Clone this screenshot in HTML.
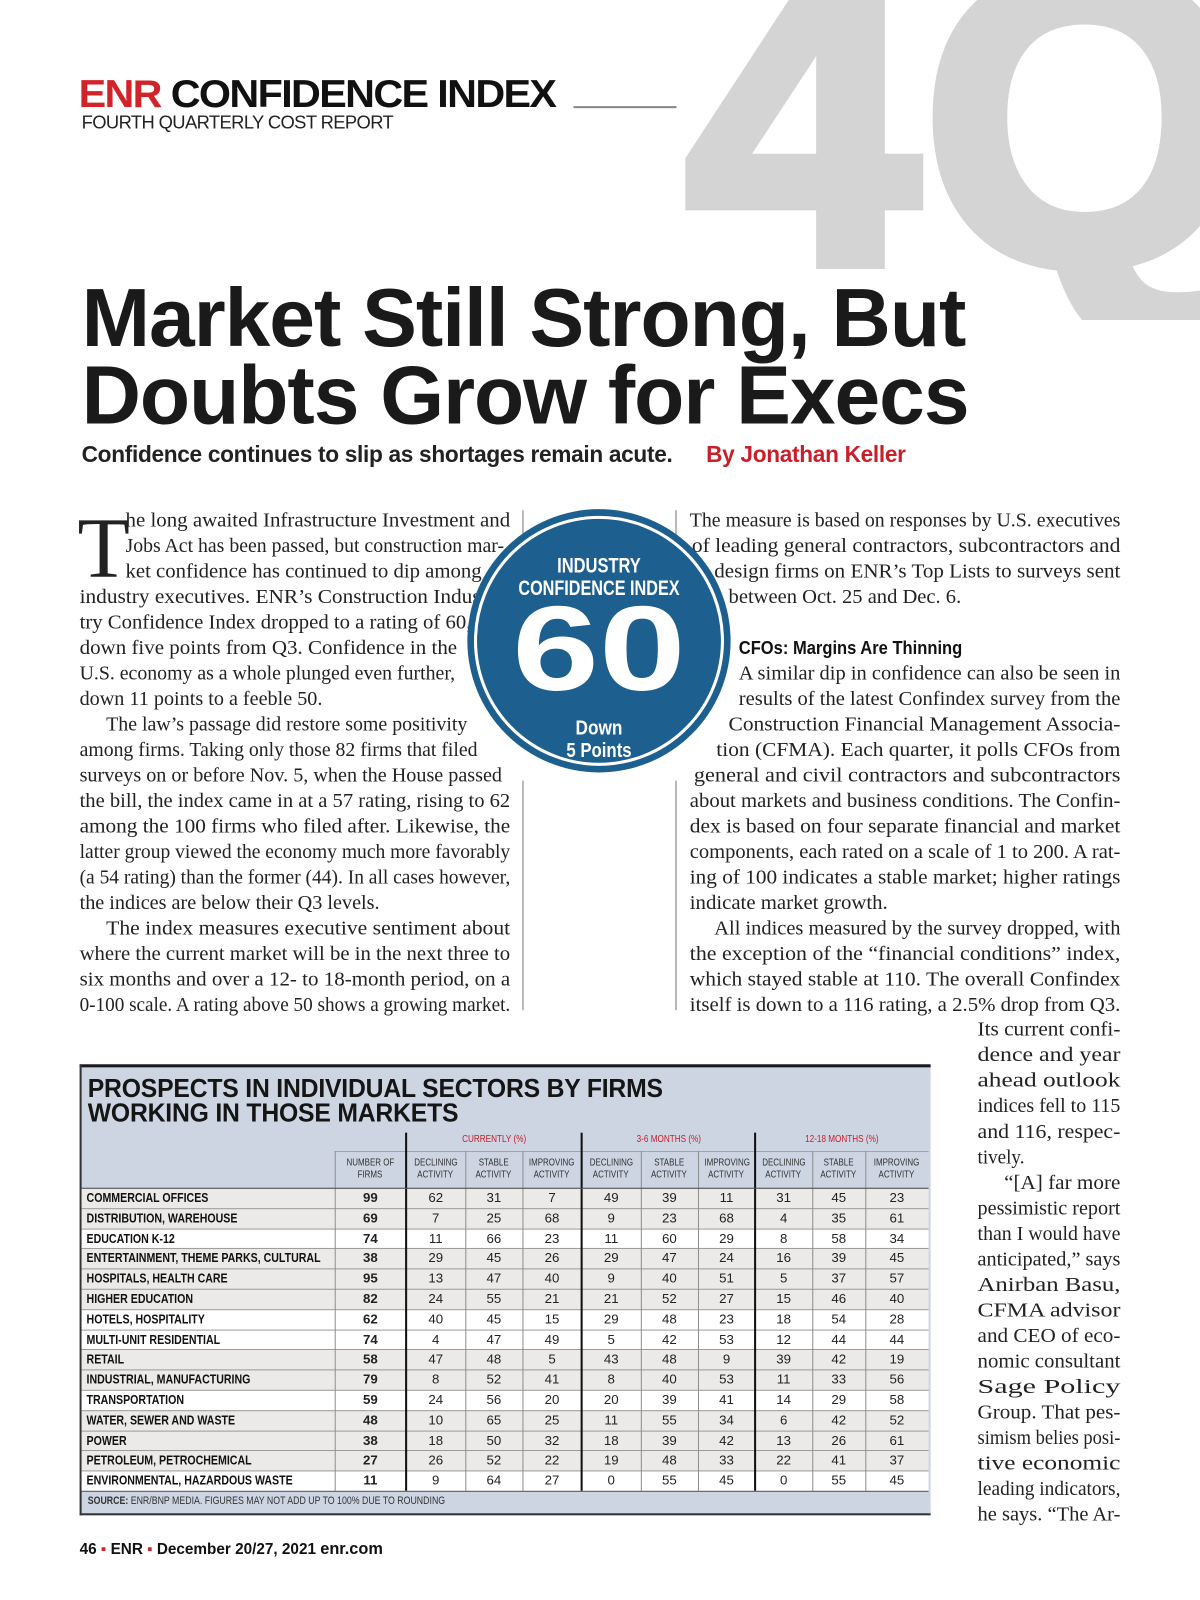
<!DOCTYPE html>
<html><head><meta charset="utf-8">
<style>
*{margin:0;padding:0;box-sizing:border-box}
body{width:1200px;height:1600px;background:#fff;position:relative;overflow:hidden;font-family:"Liberation Sans",sans-serif}
#wrap{position:absolute;left:0;top:0;width:1176px;height:1568px;transform:scale(1.020408);transform-origin:0 0}
.abs{position:absolute}
#tbl div{position:absolute;white-space:nowrap}
.cell{font-family:"Liberation Sans",sans-serif;font-size:13px;color:#222;text-align:center;line-height:19.8px}
.lab{font-family:"Liberation Sans",sans-serif;font-weight:bold;font-size:13px;color:#111;line-height:19.8px;padding-left:6px;transform:scaleX(0.8);transform-origin:left center}
.hd{font-family:"Liberation Sans",sans-serif;font-size:10px;color:#333;text-align:center;line-height:12px}
.hd span{display:inline-block;transform:scaleX(0.78)}
.grp{font-family:"Liberation Sans",sans-serif;font-size:10px;color:#c8202a;text-align:center}
</style></head><body>

<svg class="abs" style="left:0;top:0" width="1200" height="320">
<text x="686" y="262" font-family="Liberation Sans, sans-serif" font-weight="bold" font-size="418" fill="#d4d4d4" stroke="#d4d4d4" stroke-width="14" stroke-linejoin="miter" letter-spacing="4">4Q</text>
</svg>

<div id="wrap">
<div class="abs" style="left:77px;top:72px;font-size:38px;font-weight:900;letter-spacing:-1.5px;transform:scaleX(1.065);transform-origin:left;line-height:42px;white-space:nowrap"><span style="color:#d2232a">ENR</span> <span style="color:#111">CONFIDENCE INDEX</span></div>
<div class="abs" style="left:80px;top:110px;font-size:18px;color:#222;letter-spacing:-0.6px">FOURTH QUARTERLY COST REPORT</div>
<div class="abs" style="left:562px;top:104px;width:101px;height:2px;background:#888"></div>

<div class="abs" style="left:80px;top:274px;font-size:80.5px;font-weight:bold;color:#1a1a1a;letter-spacing:-1px;line-height:76px;white-space:nowrap">Market Still Strong, But<br>Doubts Grow for Execs</div>
<div class="abs" style="left:80px;top:433px;font-size:22.2px;font-weight:bold;color:#222;letter-spacing:-0.3px;white-space:nowrap">Confidence continues to slip as shortages remain acute.</div>
<div class="abs" style="left:692px;top:433px;font-size:22.2px;font-weight:bold;color:#c8202a;letter-spacing:-0.3px;white-space:nowrap">By Jonathan Keller</div>

<div class="abs" style="left:512px;top:500px;width:1px;height:24px;background:#777"></div>
<div class="abs" style="left:512px;top:765px;width:1px;height:225px;background:#777"></div>
<div class="abs" style="left:662px;top:500px;width:1px;height:24px;background:#777"></div>
<div class="abs" style="left:662px;top:765px;width:1px;height:225px;background:#777"></div>

<svg class="abs" style="left:0;top:0" width="1176" height="1568">
<g font-family="Liberation Serif, serif" font-size="20" fill="#222">
<text x="76" y="565" font-size="84">T</text>
<text x="123" y="516" textLength="377" lengthAdjust="spacingAndGlyphs">he long awaited Infrastructure Investment and</text>
<text x="123" y="541" textLength="371" lengthAdjust="spacingAndGlyphs">Jobs Act has been passed, but construction mar-</text>
<text x="123" y="566" textLength="349" lengthAdjust="spacingAndGlyphs">ket confidence has continued to dip among</text>
<text x="78" y="591" textLength="400" lengthAdjust="spacingAndGlyphs">industry executives. ENR’s Construction Indus-</text>
<text x="78" y="616" textLength="384" lengthAdjust="spacingAndGlyphs">try Confidence Index dropped to a rating of 60,</text>
<text x="78" y="641" textLength="370" lengthAdjust="spacingAndGlyphs">down five points from Q3. Confidence in the</text>
<text x="78" y="666" textLength="368" lengthAdjust="spacingAndGlyphs">U.S. economy as a whole plunged even further,</text>
<text x="78" y="691" textLength="238" lengthAdjust="spacingAndGlyphs">down 11 points to a feeble 50.</text>
<text x="104" y="716" textLength="354" lengthAdjust="spacingAndGlyphs">The law’s passage did restore some positivity</text>
<text x="78" y="741" textLength="390" lengthAdjust="spacingAndGlyphs">among firms. Taking only those 82 firms that filed</text>
<text x="78" y="766" textLength="414" lengthAdjust="spacingAndGlyphs">surveys on or before Nov. 5, when the House passed</text>
<text x="78" y="791" textLength="422" lengthAdjust="spacingAndGlyphs">the bill, the index came in at a 57 rating, rising to 62</text>
<text x="78" y="816" textLength="422" lengthAdjust="spacingAndGlyphs">among the 100 firms who filed after. Likewise, the</text>
<text x="78" y="841" textLength="422" lengthAdjust="spacingAndGlyphs">latter group viewed the economy much more favorably</text>
<text x="78" y="866" textLength="422" lengthAdjust="spacingAndGlyphs">(a 54 rating) than the former (44). In all cases however,</text>
<text x="78" y="891" textLength="294" lengthAdjust="spacingAndGlyphs">the indices are below their Q3 levels.</text>
<text x="104" y="916" textLength="396" lengthAdjust="spacingAndGlyphs">The index measures executive sentiment about</text>
<text x="78" y="941" textLength="422" lengthAdjust="spacingAndGlyphs">where the current market will be in the next three to</text>
<text x="78" y="966" textLength="422" lengthAdjust="spacingAndGlyphs">six months and over a 12- to 18-month period, on a</text>
<text x="78" y="991" textLength="422" lengthAdjust="spacingAndGlyphs">0-100 scale. A rating above 50 shows a growing market.</text>

<text x="676" y="516" textLength="422" lengthAdjust="spacingAndGlyphs">The measure is based on responses by U.S. executives</text>
<text x="678" y="541" textLength="420" lengthAdjust="spacingAndGlyphs">of leading general contractors, subcontractors and</text>
<text x="700" y="566" textLength="398" lengthAdjust="spacingAndGlyphs">design firms on ENR’s Top Lists to surveys sent</text>
<text x="714" y="591" textLength="228" lengthAdjust="spacingAndGlyphs">between Oct. 25 and Dec. 6.</text>
<text x="724" y="641" font-family="Liberation Sans, sans-serif" font-weight="bold" font-size="18" fill="#111" textLength="219" lengthAdjust="spacingAndGlyphs">CFOs: Margins Are Thinning</text>
<text x="724" y="666" textLength="374" lengthAdjust="spacingAndGlyphs">A similar dip in confidence can also be seen in</text>
<text x="724" y="691" textLength="374" lengthAdjust="spacingAndGlyphs">results of the latest Confindex survey from the</text>
<text x="714" y="716" textLength="384" lengthAdjust="spacingAndGlyphs">Construction Financial Management Associa-</text>
<text x="702" y="741" textLength="396" lengthAdjust="spacingAndGlyphs">tion (CFMA). Each quarter, it polls CFOs from</text>
<text x="680" y="766" textLength="418" lengthAdjust="spacingAndGlyphs">general and civil contractors and subcontractors</text>
<text x="676" y="791" textLength="422" lengthAdjust="spacingAndGlyphs">about markets and business conditions. The Confin-</text>
<text x="676" y="816" textLength="422" lengthAdjust="spacingAndGlyphs">dex is based on four separate financial and market</text>
<text x="676" y="841" textLength="422" lengthAdjust="spacingAndGlyphs">components, each rated on a scale of 1 to 200. A rat-</text>
<text x="676" y="866" textLength="422" lengthAdjust="spacingAndGlyphs">ing of 100 indicates a stable market; higher ratings</text>
<text x="676" y="891" textLength="194" lengthAdjust="spacingAndGlyphs">indicate market growth.</text>
<text x="700" y="916" textLength="398" lengthAdjust="spacingAndGlyphs">All indices measured by the survey dropped, with</text>
<text x="676" y="941" textLength="422" lengthAdjust="spacingAndGlyphs">the exception of the “financial conditions” index,</text>
<text x="676" y="966" textLength="422" lengthAdjust="spacingAndGlyphs">which stayed stable at 110. The overall Confindex</text>
<text x="676" y="991" textLength="422" lengthAdjust="spacingAndGlyphs">itself is down to a 116 rating, a 2.5% drop from Q3.</text>

<text x="958" y="1015" textLength="140" lengthAdjust="spacingAndGlyphs">Its current confi-</text>
<text x="958" y="1040" textLength="140" lengthAdjust="spacingAndGlyphs">dence and year</text>
<text x="958" y="1065" textLength="140" lengthAdjust="spacingAndGlyphs">ahead outlook</text>
<text x="958" y="1090" textLength="140" lengthAdjust="spacingAndGlyphs">indices fell to 115</text>
<text x="958" y="1115" textLength="140" lengthAdjust="spacingAndGlyphs">and 116, respec-</text>
<text x="958" y="1140" textLength="46" lengthAdjust="spacingAndGlyphs">tively.</text>
<text x="984" y="1165" textLength="114" lengthAdjust="spacingAndGlyphs">“[A] far more</text>
<text x="958" y="1190" textLength="140" lengthAdjust="spacingAndGlyphs">pessimistic report</text>
<text x="958" y="1215" textLength="140" lengthAdjust="spacingAndGlyphs">than I would have</text>
<text x="958" y="1240" textLength="140" lengthAdjust="spacingAndGlyphs">anticipated,” says</text>
<text x="958" y="1265" textLength="140" lengthAdjust="spacingAndGlyphs">Anirban Basu,</text>
<text x="958" y="1290" textLength="140" lengthAdjust="spacingAndGlyphs">CFMA advisor</text>
<text x="958" y="1315" textLength="140" lengthAdjust="spacingAndGlyphs">and CEO of eco-</text>
<text x="958" y="1340" textLength="140" lengthAdjust="spacingAndGlyphs">nomic consultant</text>
<text x="958" y="1365" textLength="140" lengthAdjust="spacingAndGlyphs">Sage Policy</text>
<text x="958" y="1390" textLength="140" lengthAdjust="spacingAndGlyphs">Group. That pes-</text>
<text x="958" y="1415" textLength="140" lengthAdjust="spacingAndGlyphs">simism belies posi-</text>
<text x="958" y="1440" textLength="140" lengthAdjust="spacingAndGlyphs">tive economic</text>
<text x="958" y="1465" textLength="140" lengthAdjust="spacingAndGlyphs">leading indicators,</text>
<text x="958" y="1490" textLength="140" lengthAdjust="spacingAndGlyphs">he says. “The Ar-</text>
</g>

<g>
<circle cx="587" cy="628" r="129" fill="#1d5f8e"/>
<circle cx="587" cy="628" r="121" fill="none" stroke="#fff" stroke-width="3"/>
<g font-family="Liberation Sans, sans-serif" font-weight="bold" fill="#fff" text-anchor="middle">
<text x="587" y="561" font-size="21" textLength="82" lengthAdjust="spacingAndGlyphs">INDUSTRY</text>
<text x="587" y="583" font-size="21" textLength="158" lengthAdjust="spacingAndGlyphs">CONFIDENCE INDEX</text>
<text x="587" y="676" font-size="118" textLength="170" lengthAdjust="spacingAndGlyphs">60</text>
<text x="587" y="720" font-size="20" textLength="46" lengthAdjust="spacingAndGlyphs">Down</text>
<text x="587" y="742" font-size="20" textLength="64" lengthAdjust="spacingAndGlyphs">5 Points</text>
</g></g>
</svg>

<div id="tbl" class="abs" style="left:0;top:0;width:1176px;height:1568px"></div>

<div class="abs" style="left:78px;top:1510px;font-size:15px;font-weight:bold;color:#111;white-space:nowrap">46 <span style="color:#d2232a">▪</span> ENR <span style="color:#d2232a">▪</span> December 20/27, 2021 <span style="font-size:16px">enr.com</span></div>
</div>

<script>
const sectors=["COMMERCIAL OFFICES","DISTRIBUTION, WAREHOUSE","EDUCATION K-12","ENTERTAINMENT, THEME PARKS, CULTURAL","HOSPITALS, HEALTH CARE","HIGHER EDUCATION","HOTELS, HOSPITALITY","MULTI-UNIT RESIDENTIAL","RETAIL","INDUSTRIAL, MANUFACTURING","TRANSPORTATION","WATER, SEWER AND WASTE","POWER","PETROLEUM, PETROCHEMICAL","ENVIRONMENTAL, HAZARDOUS WASTE"];
const firms=[99,69,74,38,95,82,62,74,58,79,59,48,38,27,11];
const curDeclining=[62,7,11,29,13,24,40,4,47,8,24,10,18,26,9];
const curStable=[31,25,66,45,47,55,45,47,48,52,56,65,50,52,64];
const curImproving=[7,68,23,26,40,21,15,49,5,41,20,25,32,22,27];
const m36Declining=[49,9,11,29,9,21,29,5,43,8,20,11,18,19,0];
const m36Stable=[39,23,60,47,40,52,48,42,48,40,39,55,39,48,55];
const m36Improving=[11,68,29,24,51,27,23,53,9,53,41,34,42,33,45];
const m1218Declining=[31,4,8,16,5,15,18,12,39,11,14,6,13,22,0];
const m1218Stable=[45,35,58,39,37,46,54,44,42,33,29,42,26,41,55];
const m1218Improving=[23,61,34,45,57,40,28,44,19,56,58,52,61,37,45];
const groupLabels=["CURRENTLY (%)","3-6 MONTHS (%)","12-18 MONTHS (%)"];
const colHeaders=[["NUMBER OF","FIRMS"],["DECLINING","ACTIVITY"],["STABLE","ACTIVITY"],["IMPROVING","ACTIVITY"],["DECLINING","ACTIVITY"],["STABLE","ACTIVITY"],["IMPROVING","ACTIVITY"],["DECLINING","ACTIVITY"],["STABLE","ACTIVITY"],["IMPROVING","ACTIVITY"]];

const T=document.getElementById('tbl');
function box(l,t,w,h,bg){const d=document.createElement('div');d.style.left=l+'px';d.style.top=t+'px';d.style.width=w+'px';d.style.height=h+'px';if(bg)d.style.background=bg;T.appendChild(d);return d;}
const edges=[80,328,398,456,512,570,628,684,740,796,848,910];
const rowTop=1164,rowH=19.8;
const shaded=[1,1,0,1,1,1,0,0,1,1,0,1,1,1,0];

let bg=box(78,1043,834,442,'#cdd4e2');


let tb=box(78,1043,834,3,'#1a1a1a');


let lb=box(78,1043,2,442,'#333');


let bb=box(78,1483,834,2,'#333');



let ttl=box(86,1055,800,56);


ttl.style.cssText+='font-family:"Liberation Sans",sans-serif;font-weight:bold;font-size:25px;line-height:24px;color:#151515;letter-spacing:-0.2px;transform:scaleX(0.97);transform-origin:left';
ttl.innerHTML='PROSPECTS IN INDIVIDUAL SECTORS BY FIRMS<br>WORKING IN THOSE MARKETS';

groupLabels.forEach((g,i)=>{
  const l=edges[2+i*3],r=edges[5+i*3];
  const d=box(l,1111,r-l,14);d.className='grp';d.innerHTML='<span style="display:inline-block;transform:scaleX(0.8)">'+g+'</span>';
  
  
  const ln=box(l,1128,r-l,1,'#9aa3b3');
  
  
});
let fl=box(328,1128,70,1,'#9aa3b3');


colHeaders.forEach((h,i)=>{
  const l=edges[1+i],r=edges[2+i];
  const d=box(l,1134,r-l,26);d.className='hd';d.innerHTML='<span>'+h[0]+'</span><br><span>'+h[1]+'</span>';
  
  
});

const cols=[firms,curDeclining,curStable,curImproving,m36Declining,m36Stable,m36Improving,m1218Declining,m1218Stable,m1218Improving];
sectors.forEach((s,r)=>{
  const y=rowTop+r*rowH;
  const row=box(80,y,830,rowH,shaded[r]?'#ebeae8':'#fff');
  
  
  row.style.borderTop='1px solid #9c9c9c';
  const lab=box(80,y,300,rowH);lab.className='lab';lab.textContent=s;
  
  
  cols.forEach((c,i)=>{
    const l=edges[1+i],r2=edges[2+i];
    const d=box(l,y,r2-l,rowH);d.className='cell';d.textContent=c[r];
    if(i===0)d.style.fontWeight='bold';
    
    
  });
});
const bodyBottom=rowTop+sectors.length*rowH;
edges.slice(1,11).forEach((x,i)=>{
  const thick=(x===398||x===570||x===740);
  const top=thick?1110:1128;
  const v=box(x-(thick?1:0),top,thick?2:1,bodyBottom-top,thick?'#111':'#8e8e8e');
  
  
});
let hl=box(80,rowTop,830,1,'#555');


let bl=box(80,bodyBottom,830,1,'#555');


const src=box(86,bodyBottom+4,800,16);


src.style.cssText+='font-family:"Liberation Sans",sans-serif;font-size:10.5px;color:#333;transform:scaleX(0.82);transform-origin:left';
src.innerHTML='<b>SOURCE:</b> ENR/BNP MEDIA. FIGURES MAY NOT ADD UP TO 100% DUE TO ROUNDING';
</script>
</body></html>
